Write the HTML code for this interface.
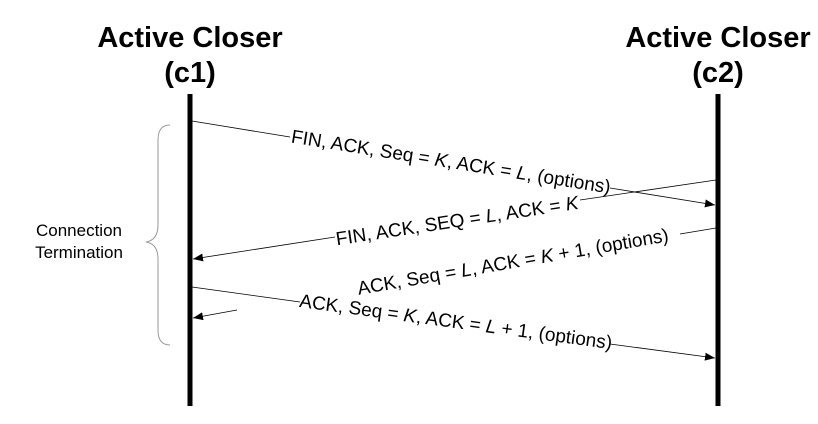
<!DOCTYPE html>
<html><head><style>
body{margin:0;background:#fff;}
svg text{font-family:"Liberation Sans",Arial,sans-serif;}
</style></head><body>
<svg width="818" height="419" viewBox="0 0 818 419" xmlns="http://www.w3.org/2000/svg">
<defs><marker id="a" markerWidth="10" markerHeight="8" refX="10" refY="4" orient="auto" markerUnits="userSpaceOnUse"><path d="M0,0 L10,4 L0,8 z" fill="#000"/></marker></defs>
<g font-weight="bold" font-size="29" text-anchor="middle">
<text x="190" y="47">Active Closer</text><text x="190" y="82">(c1)</text>
<text x="718" y="47">Active Closer</text><text x="718" y="82">(c2)</text>
</g>
<line x1="190" y1="94" x2="190" y2="406" stroke="#000" stroke-width="5"/>
<line x1="718" y1="94" x2="718" y2="406" stroke="#000" stroke-width="5"/>
<path d="M170,125 Q158,125 158,140 L158,225 Q158,240 146,242 Q158,244 158,259 L158,330 Q158,345 170,345" fill="none" stroke="#999" stroke-width="1"/>
<text x="79" y="236" font-size="17" text-anchor="middle">Connection</text>
<text x="79" y="258" font-size="17" text-anchor="middle">Termination</text>
<g stroke="#000" stroke-width="0.8" fill="none">
<line x1="192" y1="121" x2="290" y2="137"/>
<line x1="610" y1="188" x2="715" y2="205" marker-end="url(#a)"/>
<line x1="716" y1="180" x2="580" y2="200"/>
<line x1="335" y1="237" x2="193" y2="259" marker-end="url(#a)"/>
<line x1="716" y1="228" x2="680" y2="234"/>
<line x1="237" y1="310" x2="193" y2="318" marker-end="url(#a)"/>
<line x1="192" y1="287" x2="300" y2="302"/>
<line x1="610" y1="344" x2="715" y2="358" marker-end="url(#a)"/>
</g>
<g font-size="19" text-anchor="middle">
<g transform="translate(450,168) rotate(9.1)"><text>FIN, ACK, Seq = <tspan font-style="italic">K</tspan>, ACK = <tspan font-style="italic">L</tspan>, (options)</text></g>
<g transform="translate(458,227) rotate(-8.6)"><text>FIN, ACK, SEQ = <tspan font-style="italic">L</tspan>, ACK = <tspan font-style="italic">K</tspan></text></g>
<g transform="translate(514,268) rotate(-9.8)"><text>ACK, Seq = <tspan font-style="italic">L</tspan>, ACK = <tspan font-style="italic">K</tspan> + 1, (options)</text></g>
<g transform="translate(455,328) rotate(7.7)"><text>ACK, Seq = <tspan font-style="italic">K</tspan>, ACK = <tspan font-style="italic">L</tspan> + 1, (options)</text></g>
</g>
</svg>
</body></html>
